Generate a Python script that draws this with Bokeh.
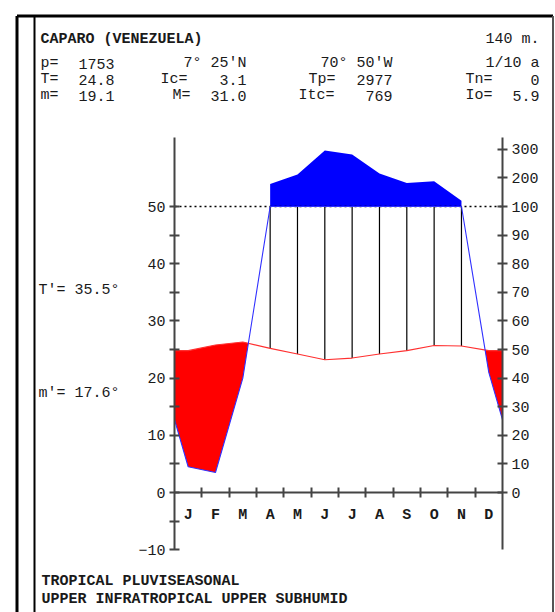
import numpy as np
from bokeh.plotting import figure
from bokeh.models import Range1d, LinearAxis, FixedTicker
from bokeh.core.properties import value
from bokeh.embed import file_html
from bokeh.resources import INLINE

# ---------------- data ----------------
months = ["J", "F", "M", "A", "M", "J", "J", "A", "S", "O", "N", "D"]
temp = [24.8, 25.8, 26.3, 25.2, 24.2, 23.2, 23.5, 24.2, 24.8, 25.7, 25.6, 24.8]   # deg C
precip = [9, 7, 40, 179, 212, 296, 282, 215, 182, 188, 120, 42]                  # mm

station = "CAPARO (VENEZUELA)"
altitude = "140 m."
row1 = ["p=", "1753", "7° 25'N", "70° 50'W", "1/10 a"]
row2 = ["T=", "24.8", "Ic=", "3.1", "Tp=", "2977", "Tn=", "0"]
row3 = ["m=", "19.1", "M=", "31.0", "Itc=", "769", "Io=", "5.9"]
side_labels = ["T'=  35.5°", "m'=  17.6°"]
footer = ["TROPICAL PLUVISEASONAL", "UPPER INFRATROPICAL UPPER SUBHUMID"]

temp_ticks = [-10, 0, 10, 20, 30, 40, 50]
temp_minor = [-5, 5, 15, 25, 35, 45]
precip_ticks = [0, 10, 20, 30, 40, 50, 60, 70, 80, 90, 100, 200, 300]

# ---------------- layout (page pixels) ----------------
W, H = 555, 612
X0, DX = 174.0, 27.33      # x of month 0, px per month
Y0, DY = 492.0, 5.72       # y of 0 degC, px per degC


def px(page_x):
    return (page_x - X0) / DX


def py(page_y):
    return (Y0 - page_y) / DY


def pscale(v):
    return v / 2.0 if v <= 100 else 50.0 + (v - 100) / 20.0


p = figure(width=W, height=H,
           x_range=Range1d(-X0 / DX, (W - X0) / DX),
           y_range=Range1d(-(H - Y0) / DY, Y0 / DY),
           x_axis_type=None, y_axis_type=None,
           toolbar_location=None, output_backend="svg",
           min_border=0, outline_line_color=None)
p.background_fill_color = "white"
p.border_fill_color = "white"

# ---------------- curves ----------------
edge_t = (temp[0] + temp[-1]) / 2.0
edge_p = (precip[0] + precip[-1]) / 2.0
xc = [0.0] + [i + 0.5 for i in range(12)] + [12.0]
tc = [edge_t] + temp + [edge_t]
pl = [min(v, 100) / 2.0 for v in [edge_p] + precip + [edge_p]]

# red (dry) area between precipitation and temperature where T > P/2
fx, fy1, fy2 = [], [], []
for i in range(len(xc) - 1):
    da = tc[i] - pl[i]
    db = tc[i + 1] - pl[i + 1]
    fx.append(xc[i]); fy1.append(pl[i]); fy2.append(max(tc[i], pl[i]))
    if da * db < 0:
        f = da / (da - db)
        xi = xc[i] + f * (xc[i + 1] - xc[i])
        yi = pl[i] + f * (pl[i + 1] - pl[i])
        fx.append(xi); fy1.append(yi); fy2.append(yi)
fx.append(xc[-1]); fy1.append(pl[-1]); fy2.append(max(tc[-1], pl[-1]))
p.varea(x=fx, y1=fy1, y2=fy2, fill_color="#ff0000")

# blue area: precipitation above 100 mm (compressed scale)
wet = [i for i, v in enumerate(precip) if v > 100]
bx = [i + 0.5 for i in wet]
by = [pscale(precip[i]) for i in wet]
p.varea(x=bx, y1=[50] * len(bx), y2=by, fill_color="#0000ff")

# hatching in humid months
hx, hy0, hy1 = [], [], []
for i in range(12):
    top = min(precip[i], 100) / 2.0
    if top > temp[i]:
        hx.append(i + 0.5); hy0.append(temp[i]); hy1.append(top)
p.segment(x0=hx, y0=hy0, x1=hx, y1=hy1, line_color="black", line_width=1.2)

# 100 mm dotted line
p.line(x=[0, 12], y=[50, 50], line_color="black", line_width=1.5, line_dash="2 3")

p.line(x=xc, y=tc, line_color="#ff3030", line_width=1.1)
p.line(x=xc, y=pl, line_color="#3030ff", line_width=1.1)

# ---------------- axes ----------------
AX = "#444444"
FONT = "Liberation Mono"


def style(ax, size="15px", bold=False):
    ax.axis_line_color = AX
    ax.axis_line_width = 2
    ax.major_tick_line_color = AX
    ax.major_tick_line_width = 2
    ax.minor_tick_line_color = AX
    ax.minor_tick_line_width = 2
    ax.major_tick_in = 5
    ax.major_tick_out = 5
    ax.minor_tick_in = 5
    ax.minor_tick_out = 5
    ax.major_label_text_font = FONT
    ax.major_label_text_font_size = size
    ax.major_label_text_color = "#1a1a1a"
    ax.major_label_text_font_style = "bold" if bold else "normal"


left = LinearAxis(fixed_location=0, bounds=(-10, 62),
                  ticker=FixedTicker(ticks=temp_ticks, minor_ticks=temp_minor))
style(left)
left.major_label_standoff = 4
p.add_layout(left, "left")

right = LinearAxis(fixed_location=12, bounds=(-10, 62),
                   ticker=FixedTicker(ticks=[pscale(v) for v in precip_ticks]),
                   major_label_overrides={pscale(v): str(v) for v in precip_ticks})
style(right)
right.major_label_standoff = 4
p.add_layout(right, "right")

xaxis = LinearAxis(fixed_location=0, bounds=(0, 12),
                   ticker=FixedTicker(ticks=list(range(1, 12))))
style(xaxis)
xaxis.major_label_text_color = None
p.add_layout(xaxis, "below")

maxis = LinearAxis(fixed_location=0,
                   ticker=FixedTicker(ticks=[i + 0.5 for i in range(12)]),
                   major_label_overrides={i + 0.5: m for i, m in enumerate(months)})
style(maxis, bold=True)
maxis.axis_line_color = None
maxis.major_tick_line_color = None
maxis.major_label_standoff = 9
p.add_layout(maxis, "below")

# ---------------- frame ----------------
p.segment(x0=[px(16.5), px(16.5), px(552.5), px(34)],
          y0=[py(15.5), py(15.5), py(15.5), py(15.5)],
          x1=[px(16.5), px(552.5), px(552.5), px(34)],
          y1=[py(630), py(15.5), py(630), py(630)],
          line_color=["black", "black", "#555555", "black"],
          line_width=[3, 3, 2, 2])


# ---------------- texts ----------------
def txt(x, y, s, align="left", bold=False):
    p.text(x=[px(x)], y=[py(y)], text=[s], text_font=value(FONT),
           text_font_size="15px", text_align=align, text_baseline="middle",
           text_font_style="bold" if bold else "normal", text_color="#1a1a1a")


txt(40, 39, station, bold=True)
txt(539, 39, altitude, align="right")

R1, R2, R3 = 63, 79, 95
txt(40, R1, row1[0]); txt(114, R1, row1[1], "right")
txt(246, R1, row1[2], "right"); txt(392, R1, row1[3], "right")
txt(539, R1, row1[4], "right")

txt(40, R2, row2[0]); txt(114, R2, row2[1], "right")
txt(160, R2, row2[2]); txt(246, R2, row2[3], "right")
txt(308, R2, row2[4]); txt(392, R2, row2[5], "right")
txt(465, R2, row2[6]); txt(539, R2, row2[7], "right")

txt(40, R3, row3[0]); txt(114, R3, row3[1], "right")
txt(172, R3, row3[2]); txt(246, R3, row3[3], "right")
txt(298, R3, row3[4]); txt(392, R3, row3[5], "right")
txt(465, R3, row3[6]); txt(539, R3, row3[7], "right")

txt(38, 290, side_labels[0])
txt(38, 393, side_labels[1])

txt(41, 581, footer[0], bold=True)
txt(41, 599, footer[1], bold=True)

open("out.html", "w").write(file_html(p, INLINE))
